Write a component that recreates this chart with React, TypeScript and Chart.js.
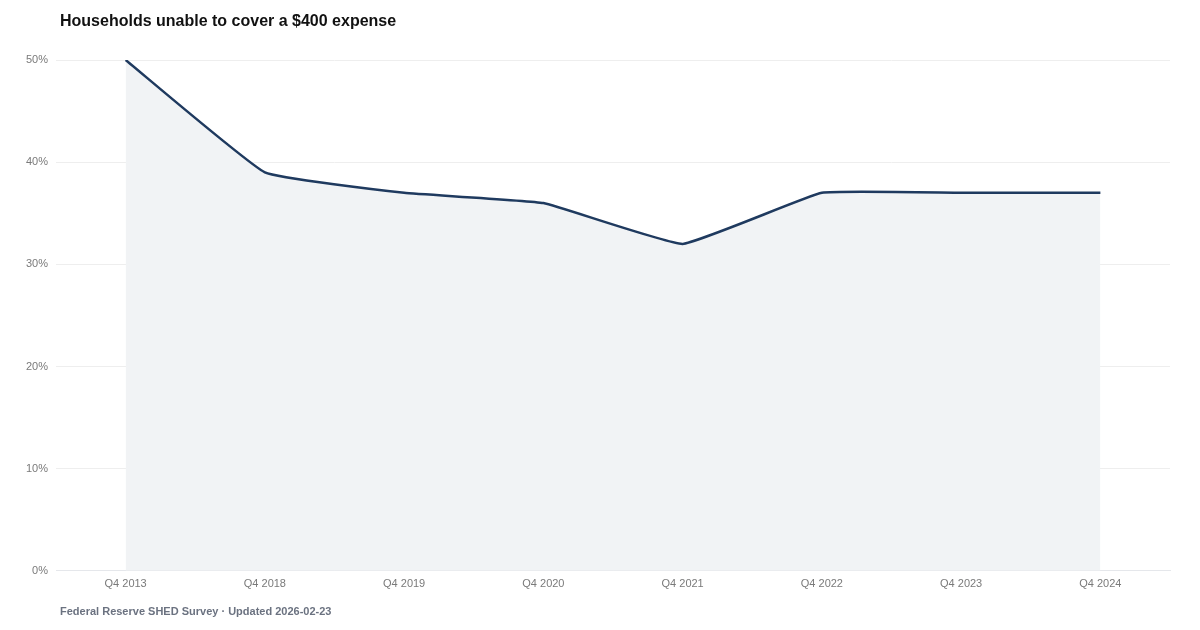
import React, { useEffect, useRef } from "react";
import { Chart, registerables } from "chart.js";

Chart.register(...registerables);

const categories = ["Q4 2013", "Q4 2018", "Q4 2019", "Q4 2020", "Q4 2021", "Q4 2022", "Q4 2023", "Q4 2024"];
const shareUnable = [50, 39, 37, 36, 32, 37, 37, 37];
const titleText = "Households unable to cover a $400 expense";
const footerText = "Federal Reserve SHED Survey · Updated 2026-02-23";

const FONT = "'Liberation Sans', Arial, Helvetica, sans-serif";

export default function App() {
  const ref = useRef<HTMLCanvasElement | null>(null);

  useEffect(() => {
    document.body.style.margin = "0";
    const canvas = ref.current;
    if (!canvas) return;
    const chart = new Chart(canvas, {
      type: "line",
      data: {
        labels: categories,
        datasets: [
          {
            data: shareUnable,
            borderColor: "#1f3a5f",
            borderWidth: 2.5,
            backgroundColor: "rgba(241,243,245,1)",
            fill: "origin",
            tension: 0.1,
            pointRadius: 0,
            pointHoverRadius: 0,
          },
        ],
      },
      options: {
        responsive: false,
        animation: false,
        maintainAspectRatio: false,
        layout: { padding: { top: 60, left: 18, right: 30, bottom: 32 } },
        plugins: {
          legend: { display: false },
          title: { display: false },
          tooltip: { enabled: false },
        },
        scales: {
          x: {
            offset: true,
            grid: { display: false, drawTicks: false },
            border: { display: true, color: "#e5e7eb", width: 1 },
            ticks: { color: "#7a7a7a", font: { family: FONT, size: 11 }, padding: 7, maxRotation: 0 },
          },
          y: {
            min: 0,
            max: 50,
            grid: { color: "#eeeeee", drawTicks: false },
            border: { display: false },
            ticks: {
              stepSize: 10,
              color: "#7a7a7a",
              font: { family: FONT, size: 11 },
              padding: 8,
              callback: (v: any) => `${v}%`,
            },
          },
        },
      },
    });
    return () => chart.destroy();
  }, []);

  return (
    <div style={{ position: "relative", width: 1200, height: 630, background: "#fff", fontFamily: FONT }}>
      <canvas ref={ref} width={1200} height={630} style={{ position: "absolute", left: 0, top: 0 }} />
      <div
        style={{
          position: "absolute",
          left: 60,
          top: 11,
          fontSize: 16,
          fontWeight: 700,
          color: "#111111",
          lineHeight: "20px",
        }}
      >
        {titleText}
      </div>
      <div
        style={{
          position: "absolute",
          left: 60,
          top: 604,
          fontSize: 11,
          fontWeight: 700,
          color: "#6b7280",
          lineHeight: "14px",
        }}
      >
        {footerText}
      </div>
    </div>
  );
}
